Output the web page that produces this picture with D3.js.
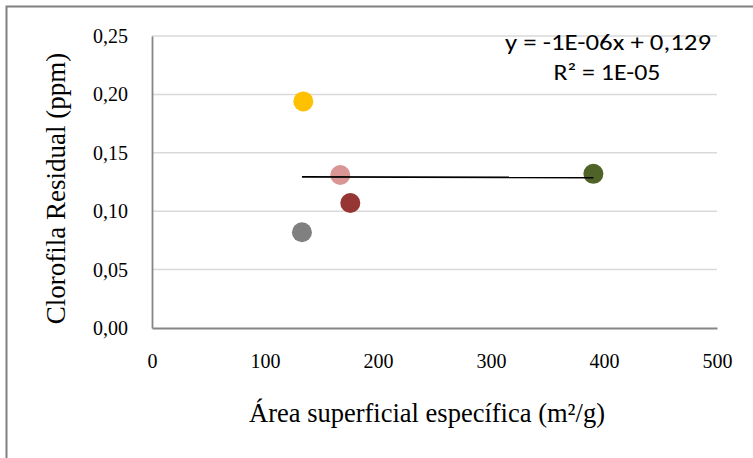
<!DOCTYPE html>
<html>
<head>
<meta charset="utf-8">
<script src="https://cdn.jsdelivr.net/npm/d3@7"></script>
<style>
  html, body { margin: 0; padding: 0; background: #fff; }
  svg { display: block; }
</style>
</head>
<body>
<script>
// Samples: specific surface area (m²/g) vs residual chlorophyll (ppm)
const surfaceArea = [133.9, 166.6, 175.5, 132.7, 390.6];
const chlorophyll = [0.194, 0.131, 0.107, 0.082, 0.132];
const pointColors = ["#FFC000", "#DA9694", "#963634", "#808080", "#4F6228"];

const xTicks = [0, 100, 200, 300, 400, 500];
const yTicks = [0, 0.05, 0.10, 0.15, 0.20, 0.25];

const equationText = "y = -1E-06x + 0,129";
const r2Text = "R² = 1E-05";
const xTitle = "Área superficial específica (m²/g)";
const yTitle = "Clorofila Residual (ppm)";

const W = 753, H = 458;
const plot = { left: 152, right: 717, top: 36, bottom: 328 };
const serif = "'Liberation Serif', 'Times New Roman', serif";

const svg = d3.select("body").append("svg")
  .attr("width", W).attr("height", H);

// outer chart frame (only left and top edges fall inside the view)
svg.append("rect")
  .attr("x", 6.5).attr("y", 6.5)
  .attr("width", W + 20).attr("height", H + 20)
  .attr("fill", "#fff")
  .attr("stroke", "#808080").attr("stroke-width", 2);

const x = d3.scaleLinear().domain([0, 500]).range([plot.left, plot.right]);
const y = d3.scaleLinear().domain([0, 0.25]).range([plot.bottom, plot.top]);

const fmtY = v => d3.format(".2f")(v).replace(".", ",");

// horizontal gridlines
svg.append("g")
  .selectAll("line")
  .data(yTicks.filter(t => t > 0))
  .join("line")
  .attr("x1", plot.left).attr("x2", plot.right)
  .attr("y1", d => y(d)).attr("y2", d => y(d))
  .attr("stroke", "#d9d9d9").attr("stroke-width", 1.5);

// y axis
const yAxis = svg.append("g")
  .attr("transform", `translate(${plot.left},0)`)
  .call(d3.axisLeft(y).tickValues(yTicks).tickFormat(fmtY).tickSize(0).tickPadding(24));
yAxis.select(".domain").attr("stroke", "#868686").attr("stroke-width", 1.8);
yAxis.selectAll("text")
  .attr("font-family", serif)
  .attr("font-size", 20).attr("fill", "#000");

// x axis
const xAxis = svg.append("g")
  .attr("transform", `translate(0,${plot.bottom})`)
  .call(d3.axisBottom(x).tickValues(xTicks).tickFormat(d3.format("d")).tickSize(0).tickPadding(26));
xAxis.select(".domain").attr("stroke", "#868686").attr("stroke-width", 1.8);
xAxis.selectAll("text")
  .attr("font-family", serif)
  .attr("font-size", 20).attr("fill", "#000");

// points
svg.append("g")
  .selectAll("circle")
  .data(surfaceArea.map((v, i) => ({ x: v, y: chlorophyll[i], c: pointColors[i] })))
  .join("circle")
  .attr("cx", d => x(d.x)).attr("cy", d => y(d.y))
  .attr("r", 10)
  .attr("fill", d => d.c);

// least-squares trendline across the sampled range, drawn over the points
const mx = d3.mean(surfaceArea), my = d3.mean(chlorophyll);
const slope = d3.sum(surfaceArea, (v, i) => (v - mx) * (chlorophyll[i] - my)) /
              d3.sum(surfaceArea, v => (v - mx) * (v - mx));
const intercept = my - slope * mx;
const [xmin, xmax] = d3.extent(surfaceArea);
svg.append("line")
  .attr("x1", x(xmin)).attr("y1", y(intercept + slope * xmin))
  .attr("x2", x(xmax)).attr("y2", y(intercept + slope * xmax))
  .attr("stroke", "#000").attr("stroke-width", 1.8);

// trendline equation label
const eq = svg.append("g")
  .attr("font-family", "Carlito, Lato, 'Open Sans', sans-serif")
  .attr("font-size", 22).attr("fill", "#000")
  .attr("text-anchor", "middle");
eq.append("text").attr("x", 608).attr("y", 50)
  .attr("textLength", 206).attr("lengthAdjust", "spacingAndGlyphs")
  .text(equationText);
eq.append("text").attr("x", 607).attr("y", 80)
  .attr("textLength", 107).attr("lengthAdjust", "spacingAndGlyphs")
  .text(r2Text);

// axis titles
svg.append("text")
  .attr("x", 427).attr("y", 422)
  .attr("text-anchor", "middle")
  .attr("font-family", serif)
  .attr("font-size", 26.5).attr("fill", "#000")
  .text(xTitle);

svg.append("text")
  .attr("transform", "translate(65,188.5) rotate(-90)")
  .attr("text-anchor", "middle")
  .attr("font-family", serif)
  .attr("font-size", 27).attr("fill", "#000")
  .text(yTitle);
</script>
</body>
</html>
